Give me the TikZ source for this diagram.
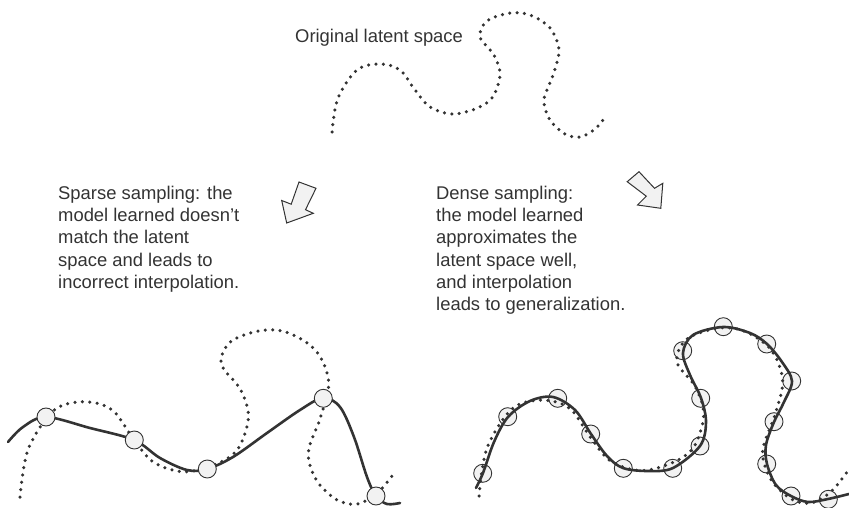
\documentclass[tikz,border=0pt]{standalone}
\usepackage{fontspec}
\setmainfont{Liberation Sans}
\definecolor{ink}{HTML}{333333}
\definecolor{pale}{HTML}{F2F2F2}
\begin{document}
\begin{tikzpicture}[x=1pt,y=-1pt,
  label/.style={text=ink, inner sep=0pt, align=left, font=\fontsize{18.4}{22.2}\selectfont},
  dots/.style={draw=ink, line width=3.5pt, line cap=round, dash pattern=on 0pt off 7.4pt},
  fit/.style={draw=ink, line width=2.6pt, line cap=round},
  sample/.style={circle, draw=ink, fill=pale, line width=0.9pt, minimum size=18pt, inner sep=0pt},
  blockarrow/.style={draw=ink, fill=pale, line width=1pt, line join=miter}]
\useasboundingbox (0,0) rectangle (849,508);
\def\latent{plot[smooth, tension=0.55] coordinates {(332,132) (338,98) (357,70) (380,64) (400,70) (415,90) (430,107) (452,114) (475,109) (492,98) (500,75) (494,55) (480,37) (487,21) (510,13) (530,15) (550,28) (559,50) (553,75) (544,100) (550,120) (565,134) (580,137) (595,129) (607,115)}}

% top: original latent space
\draw[dots] \latent;
\node[label, anchor=base west] (title) at (295,42.5) {Original latent space};

% captions (anchored at the baseline of their last line)
\node[label, anchor=base west] (sparse) at (58,288.3) {Sparse sampling: the\\model learned doesn’t\\match the latent\\space and leads to\\incorrect interpolation.};
\node[label, anchor=base west] (dense) at (436,310.5) {Dense sampling:\\the model learned\\approximates the\\latent space well,\\and interpolation\\leads to generalization.};

% block arrows
\draw[blockarrow] (299,182) -- (316,188.3) -- (305.5,209.7) -- (313.3,213.3) -- (286.7,223) -- (281.7,200.5) -- (291.2,204.2) -- cycle;
\draw[blockarrow] (627.2,181.7) -- (639,171.7) -- (654.5,188.3) -- (662.8,183.3) -- (660.8,208.3) -- (637.5,205) -- (646.3,196.2) -- cycle;

% bottom left: sparse sampling
\begin{scope}[shift={(20,497)}, xscale=1.36, yscale=1.4, shift={(-332,-132)}]
  \draw[dots] \latent;
\end{scope}
\draw[fit] plot[smooth, tension=0.55] coordinates {(8,442) (23,427) (46,417) (90,428) (134,440) (160,458) (187,470) (207,469) (233,457) (267,433) (300,410) (323,398) (340,407) (354,437) (367,477) (376,496) (387,504) (400,503)};
\node[sample] (s1) at (46,417) {};
\node[sample] (s2) at (134.3,440) {};
\node[sample] (s3) at (207.3,469) {};
\node[sample] (s4) at (323.3,398.3) {};
\node[sample] (s5) at (376,496) {};

% bottom right: dense sampling
\node[sample] (d1) at (482.7,473.3) {};
\node[sample] (d2) at (507.7,416.7) {};
\node[sample] (d3) at (557.7,398.3) {};
\node[sample] (d4) at (590.7,434) {};
\node[sample] (d5) at (623.3,468.3) {};
\node[sample] (d6) at (672.7,468.3) {};
\node[sample] (d7) at (700,446) {};
\node[sample] (d8) at (700.7,398.3) {};
\node[sample] (d9) at (682.7,350.7) {};
\node[sample] (d10) at (723.3,326.7) {};
\node[sample] (d11) at (766.7,344) {};
\node[sample] (d12) at (791.7,381) {};
\node[sample] (d13) at (774,421.7) {};
\node[sample] (d14) at (766.7,464) {};
\node[sample] (d15) at (791,496) {};
\node[sample] (d16) at (828.3,499.3) {};
\begin{scope}[shift={(479,496)}, xscale=1.338, yscale=1.41, shift={(-332,-132)}]
  \draw[dots] \latent;
\end{scope}
\draw[fit] plot[smooth, tension=0.55] coordinates {(476,488) (483,473) (494,442) (508,417) (530,401) (553,397) (575,410) (591,434) (607,456) (623,468) (648,471) (673,468) (700,446) (706,422) (701,398) (690,375) (683,353) (693,335) (723,327) (750,333) (767,344) (782,362) (792,381) (784,402) (774,422) (766,445) (767,464) (776,485) (791,496) (808,502) (828,499) (849,494)};
\end{tikzpicture}
\end{document}
